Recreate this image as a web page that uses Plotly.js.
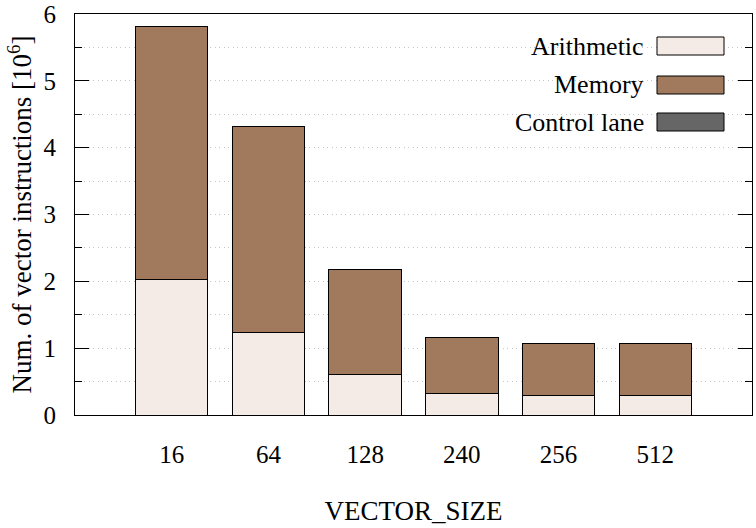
<!DOCTYPE html>
<html>
<head>
<meta charset="utf-8">
<script src="https://cdn.plot.ly/plotly-3.0.1.min.js"></script>
<style>
html,body{margin:0;padding:0;background:#fff;}
#chart{width:756px;height:528px;}
</style>
</head>
<body>
<div id="chart"></div>
<script>
const categories = ["16", "64", "128", "240", "256", "512"];
const arithmetic = [2.03, 1.24, 0.61, 0.325, 0.295, 0.295];
const memory = [3.79, 3.08, 1.56, 0.84, 0.78, 0.78];
const controlLane = [0, 0, 0, 0, 0, 0];
const seriesNames = ["Arithmetic", "Memory", "Control lane"];
const seriesColors = ["#f5ebe6", "#a17a5d", "#666666"];
const seriesValues = [arithmetic, memory, controlLane];

const FONT = "Liberation Serif";
const idx = categories.map((c, i) => i);

const traces = seriesValues.map((vals, k) => ({
  type: "bar",
  x: idx,
  // zero-height segments are not drawn (no stray outline)
  y: vals.map(v => (v > 0 ? v : null)),
  name: seriesNames[k],
  width: 0.75,
  marker: {color: seriesColors[k], line: {color: "#000", width: 1}},
  showlegend: false,
  hoverinfo: "skip"
}));

// legend built manually (text to the left of the swatch)
const W = 756, H = 528, L = 75, R = 4, T = 14, B = 113;
const pw = W - L - R, ph = H - T - B;
const px = v => (v - L) / pw;
const py = v => (H - B - v) / ph;
const annotations = [], shapes = [];
const rowCenters = [46, 85, 122];
seriesNames.forEach((n, k) => {
  const c = rowCenters[k];
  annotations.push({xref: "paper", yref: "paper", x: px(646), y: py(c), xanchor: "right", yanchor: "middle",
    text: n, showarrow: false, font: {family: FONT, size: 26, color: "#000"}});
  shapes.push({type: "rect", xref: "paper", yref: "paper", x0: px(657), x1: px(724), y0: py(c + 9), y1: py(c - 9),
    fillcolor: seriesColors[k], line: {color: "#000", width: 1}});
});

const GRID = {gridcolor: "#c4c4c4", griddash: "1px,3.5px", gridwidth: 1};

const layout = {
  width: W, height: H,
  margin: {l: L, r: R, t: T, b: B, pad: 0},
  paper_bgcolor: "#fff", plot_bgcolor: "#fff",
  barmode: "stack",
  font: {family: FONT, size: 25, color: "#000"},
  xaxis: {
    range: [-1, 6],
    tickmode: "array", tickvals: idx, ticktext: categories,
    ticks: "", showgrid: false, zeroline: false,
    showline: true, linecolor: "#000", linewidth: 1.2, mirror: true,
    ticklabelstandoff: 17,
    tickfont: {family: FONT, size: 25, color: "#000"},
    title: {text: "VECTOR_SIZE", font: {family: FONT, size: 27, color: "#000"}, standoff: 34},
    automargin: false
  },
  yaxis: Object.assign({
    range: [0, 6], dtick: 1, tick0: 0,
    ticks: "inside", ticklen: 14, tickwidth: 1.2, tickcolor: "#000",
    showline: true, linecolor: "#000", linewidth: 1.2, mirror: "ticks",
    showgrid: true,
    zeroline: false,
    ticklabelstandoff: 13,
    tickfont: {family: FONT, size: 25, color: "#000"},
    minor: Object.assign({dtick: 0.5, ticks: "inside", ticklen: 7, tickwidth: 1.2, tickcolor: "#000",
            showgrid: true}, GRID),
    title: {text: "Num. of vector instructions [10<sup>6</sup>]", font: {family: FONT, size: 27, color: "#000"}, standoff: 3},
    automargin: false
  }, GRID),
  annotations: annotations,
  shapes: shapes
};

Plotly.newPlot("chart", traces, layout, {displayModeBar: false});
</script>
</body>
</html>
